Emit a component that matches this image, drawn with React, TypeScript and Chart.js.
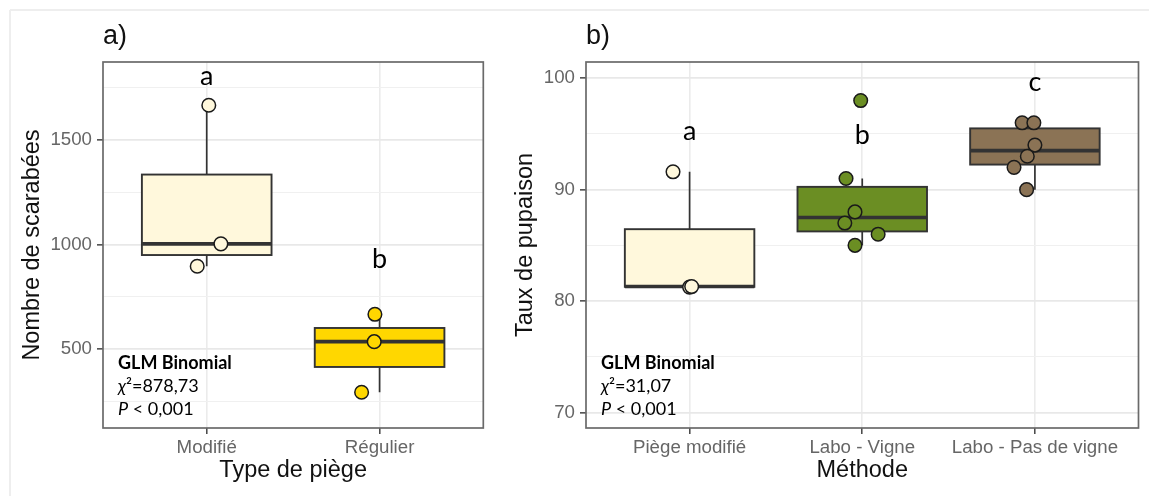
import React, { useEffect, useRef } from 'react';
import { Chart, registerables } from 'chart.js';

Chart.register(...registerables);

// ---------- Panel a ----------
const CATS_A = ['Modifié', 'Régulier'];
const MODIFIE = [1666, 1003, 896];
const REGULIER = [666, 535, 293];
const JITTER_MODIFIE = [0.012, 0.082, -0.055];
const JITTER_REGULIER = [-0.027, -0.031, -0.104];
const Y_TICKS_A = [250, 500, 750, 1000, 1250, 1500, 1750];
const Y_MAJOR_A = [500, 1000, 1500];
const LETTERS_A = ['a', 'b'];
const LETTER_Y_A = [1763, 886];
const CHI2_A = '878,73';
const FILLS_A = ['#FFF8DC', '#FFD700'];

// ---------- Panel b ----------
const CATS_B = ['Piège modifié', 'Labo - Vigne', 'Labo - Pas de vigne'];
const PIEGE = [91.6, 81.25, 81.3];
const VIGNE = [98, 91, 88, 87, 86, 85];
const PAS_VIGNE = [96, 96, 94, 93, 92, 90];
const JITTER_PIEGE = [-0.096, 0, 0.012];
const JITTER_VIGNE = [-0.009, -0.094, -0.042, -0.101, 0.092, -0.042];
const JITTER_PAS_VIGNE = [-0.074, -0.006, 0, -0.044, -0.121, -0.048];
const Y_TICKS_B = [70, 75, 80, 85, 90, 95, 100];
const Y_MAJOR_B = [70, 80, 90, 100];
const LETTERS_B = ['a', 'b', 'c'];
const LETTER_Y_B = [94.43, 94.1, 98.9];
const CHI2_B = '31,07';
const FILLS_B = ['#FFF8DC', '#6B8E23', '#8B7355'];

const P_TEXT = ' < 0,001';
const GLM_TEXT = 'GLM Binomial';

const SANS = '"Liberation Sans", Arial, Helvetica, sans-serif';
const CAL = 'Lato, "Noto Sans", sans-serif';

function quantile(sorted: number[], p: number) {
  const h = (sorted.length - 1) * p;
  const lo = Math.floor(h);
  const hi = Math.ceil(h);
  return sorted[lo] + (h - lo) * (sorted[hi] - sorted[lo]);
}

function makePlugin(groups: number[][], fills: string[], letters: string[], letterY: number[], chi2: string, tag: string) {
  return {
    id: 'ggbox_' + tag,
    beforeDatasetsDraw(chart: any) {
      const { ctx, scales } = chart;
      const x = scales.x, y = scales.y;
      ctx.save();
      groups.forEach((vals, i) => {
        const s = [...vals].sort((a, b) => a - b);
        const q1 = quantile(s, 0.25), med = quantile(s, 0.5), q3 = quantile(s, 0.75);
        const iqr = q3 - q1;
        const lo = Math.min(...s.filter((v) => v >= q1 - 1.5 * iqr));
        const hi = Math.max(...s.filter((v) => v <= q3 + 1.5 * iqr));
        const cx = x.getPixelForValue(i + 1);
        const xl = x.getPixelForValue(i + 1 - 0.375);
        const xr = x.getPixelForValue(i + 1 + 0.375);
        const yq1 = y.getPixelForValue(q1), yq3 = y.getPixelForValue(q3), ym = y.getPixelForValue(med);
        ctx.strokeStyle = '#333333';
        ctx.lineWidth = 1.7;
        ctx.beginPath();
        ctx.moveTo(cx, y.getPixelForValue(hi));
        ctx.lineTo(cx, yq3);
        ctx.moveTo(cx, yq1);
        ctx.lineTo(cx, y.getPixelForValue(lo));
        ctx.stroke();
        ctx.fillStyle = fills[i];
        ctx.fillRect(xl, yq3, xr - xl, yq1 - yq3);
        ctx.lineWidth = 1.9;
        ctx.strokeRect(xl, yq3, xr - xl, yq1 - yq3);
        ctx.lineWidth = 3.6;
        ctx.beginPath();
        ctx.moveTo(xl, ym);
        ctx.lineTo(xr, ym);
        ctx.stroke();
      });
      ctx.restore();
    },
    afterDraw(chart: any) {
      const { ctx, chartArea: ca, scales } = chart;
      const x = scales.x, y = scales.y;
      ctx.save();
      // panel border
      ctx.strokeStyle = '#6a6a6a';
      ctx.lineWidth = 1.7;
      ctx.strokeRect(ca.left, ca.top, ca.right - ca.left, ca.bottom - ca.top);
      // tag
      ctx.fillStyle = '#111111';
      ctx.textBaseline = 'alphabetic';
      ctx.textAlign = 'left';
      ctx.font = `27px ${SANS}`;
      ctx.fillText(tag, ca.left, 43.5);
      // significance letters
      ctx.textAlign = 'center';
      ctx.fillStyle = '#000000';
      ctx.font = `27px ${CAL}`;
      letters.forEach((l, i) => {
        ctx.fillText(l, x.getPixelForValue(i + 1), y.getPixelForValue(letterY[i]));
      });
      // stats annotation
      ctx.textAlign = 'left';
      const lx = ca.left + 15;
      ctx.font = `bold 18px ${CAL}`;
      ctx.fillText(GLM_TEXT, lx, ca.bottom - 59);
      ctx.font = `italic 18px ${CAL}`;
      ctx.fillText('χ', lx, ca.bottom - 36);
      let w = ctx.measureText('χ').width;
      ctx.font = `18px ${CAL}`;
      ctx.fillText('²=' + chi2, lx + w, ca.bottom - 36);
      ctx.font = `italic 18px ${CAL}`;
      ctx.fillText('P', lx, ca.bottom - 13);
      w = ctx.measureText('P').width;
      ctx.font = `18px ${CAL}`;
      ctx.fillText(P_TEXT, lx + w, ca.bottom - 13);
      ctx.restore();
    },
  };
}

function buildConfig(opts: {
  cats: string[]; groups: number[][]; jitters: number[][]; fills: string[];
  yMin: number; yMax: number; yTicks: number[]; yMajor: number[];
  xTitle: string; yTitle: string; yAxisWidth: number; yTitlePad: number; rightPad: number;
  letters: string[]; letterY: number[]; chi2: string; tag: string;
}) {
  const datasets = opts.groups.map((vals, i) => ({
    data: vals.map((v, j) => ({ x: i + 1 + opts.jitters[i][j], y: v })),
    pointRadius: 6.8,
    pointHoverRadius: 6.8,
    pointBorderWidth: 1.5,
    pointBackgroundColor: opts.fills[i],
    pointBorderColor: '#1a1a1a',
    showLine: false,
  }));
  return {
    type: 'scatter',
    data: { datasets },
    plugins: [makePlugin(opts.groups, opts.fills, opts.letters, opts.letterY, opts.chi2, opts.tag)],
    options: {
      responsive: false,
      animation: false,
      events: [],
      layout: { padding: { top: 62, right: opts.rightPad, bottom: 0, left: 0 } },
      plugins: { legend: { display: false }, tooltip: { enabled: false } },
      scales: {
        x: {
          type: 'linear',
          min: 0.4,
          max: opts.cats.length + 0.6,
          afterBuildTicks: (s: any) => { s.ticks = opts.cats.map((_, i) => ({ value: i + 1 })); },
          afterFit: (s: any) => { s.height = 68; },
          border: { display: false },
          grid: { color: '#EBEBEB', lineWidth: 1.6, tickColor: '#444444', tickLength: 6, tickWidth: 1.5 },
          ticks: {
            autoSkip: false, maxRotation: 0, minRotation: 0, padding: 3, color: '#666666',
            font: { family: SANS, size: 18.7 },
            callback: (_v: any, i: number) => opts.cats[i],
          },
          title: {
            display: true, text: opts.xTitle, color: '#111111',
            font: { family: SANS, size: 23.5 }, padding: { top: 0, bottom: 11 },
          },
        },
        y: {
          type: 'linear',
          min: opts.yMin,
          max: opts.yMax,
          afterBuildTicks: (s: any) => { s.ticks = opts.yTicks.map((v) => ({ value: v })); },
          afterFit: (s: any) => { s.width = opts.yAxisWidth; },
          border: { display: false },
          grid: {
            color: (c: any) => (opts.yMajor.includes(c.tick?.value) ? '#E8E8E8' : '#F0F0F0'),
            lineWidth: (c: any) => (opts.yMajor.includes(c.tick?.value) ? 1.7 : 1.1),
            tickColor: (c: any) => (opts.yMajor.includes(c.tick?.value) ? '#444444' : 'rgba(0,0,0,0)'),
            tickLength: 6,
            tickWidth: 1.5,
          },
          ticks: {
            autoSkip: false, padding: 5, color: '#666666',
            font: { family: SANS, size: 18.7 },
            callback: (v: any) => (opts.yMajor.includes(v) ? String(v) : ''),
          },
          title: {
            display: true, text: opts.yTitle, color: '#111111',
            font: { family: SANS, size: 23.5 }, padding: { top: opts.yTitlePad, bottom: 0 },
          },
        },
      },
    },
  } as any;
}

export default function App() {
  const refA = useRef<HTMLCanvasElement>(null);
  const refB = useRef<HTMLCanvasElement>(null);

  useEffect(() => {
    const chartA = new Chart(refA.current as HTMLCanvasElement, buildConfig({
      cats: CATS_A,
      groups: [MODIFIE, REGULIER],
      jitters: [JITTER_MODIFIE, JITTER_REGULIER],
      fills: FILLS_A,
      yMin: 122, yMax: 1873, yTicks: Y_TICKS_A, yMajor: Y_MAJOR_A,
      xTitle: 'Type de piège', yTitle: 'Nombre de scarabées',
      yAxisWidth: 103, yTitlePad: 18, rightPad: 16.7,
      letters: LETTERS_A, letterY: LETTER_Y_A, chi2: CHI2_A, tag: 'a)',
    }));
    const chartB = new Chart(refB.current as HTMLCanvasElement, buildConfig({
      cats: CATS_B,
      groups: [PIEGE, VIGNE, PAS_VIGNE],
      jitters: [JITTER_PIEGE, JITTER_VIGNE, JITTER_PAS_VIGNE],
      fills: FILLS_B,
      yMin: 68.6, yMax: 101.46, yTicks: Y_TICKS_B, yMajor: Y_MAJOR_B,
      xTitle: 'Méthode', yTitle: 'Taux de pupaison',
      yAxisWidth: 86, yTitlePad: 11, rightPad: 10.5,
      letters: LETTERS_B, letterY: LETTER_Y_B, chi2: CHI2_B, tag: 'b)',
    }));
    return () => { chartA.destroy(); chartB.destroy(); };
  }, []);

  return (
    <div style={{ position: 'fixed', left: 0, top: 0, width: 1149, height: 496, background: '#ffffff', overflow: 'hidden' }}>
      <div style={{ position: 'absolute', left: 10, top: 9, width: 1139, height: 2, background: '#EEEEEE' }} />
      <div style={{ position: 'absolute', left: 9, top: 10, width: 2, height: 486, background: '#EEEEEE' }} />
      <canvas ref={refA} width={500} height={496} style={{ position: 'absolute', left: 0, top: 0, width: 500, height: 496 }} />
      <canvas ref={refB} width={649} height={496} style={{ position: 'absolute', left: 500, top: 0, width: 649, height: 496 }} />
    </div>
  );
}
